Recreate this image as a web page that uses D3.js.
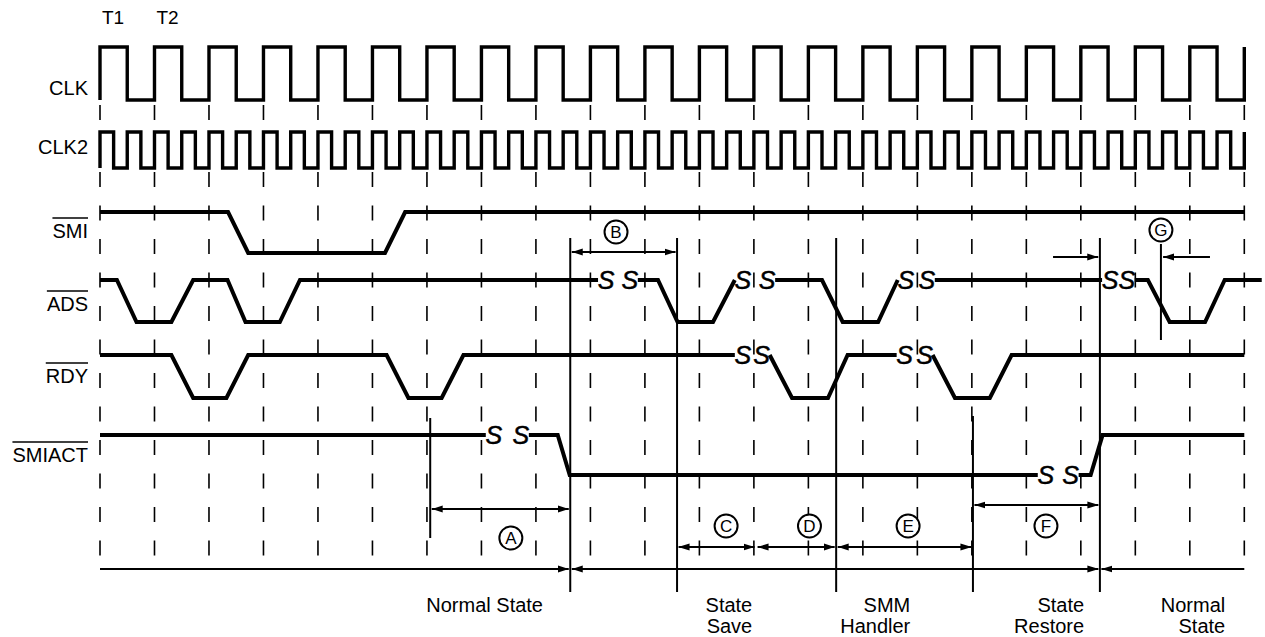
<!DOCTYPE html>
<html>
<head>
<meta charset="utf-8">
<script src="https://cdn.jsdelivr.net/npm/d3@7"></script>
<style>
  body { margin: 0; background: #fff; }
  svg text { font-family: "Liberation Sans", Arial, Helvetica, sans-serif; fill: #000; }
</style>
</head>
<body>
<div id="chart"></div>
<script>
// ---- data (time in CLK periods, level 1 = high / 0 = low) ----
const clkCycles = 21
const clk2Cycles = 42
const cycleLabels = ["T1", "T2"]

const signalNames = ["SMI", "ADS", "RDY", "SMIACT"]

// each signal is a list of segments, an "S S" break sits between two segments
const smiWave = [
    [[0, 1], [2.35, 1], [2.72, 0], [5.23, 0], [5.6, 1], [21, 1]]
]
const adsWave = [
    [[0, 1], [0.31, 1], [0.67, 0], [1.31, 0], [1.71, 1], [2.34, 1], [2.67, 0], [3.3, 0], [3.67, 1], [9.14, 1]],
    [[9.87, 1], [10.24, 1], [10.6, 0], [11.25, 0], [11.65, 1]],
    [[12.39, 1], [13.25, 1], [13.63, 0], [14.28, 0], [14.64, 1]],
    [[15.32, 1], [18.39, 1]],
    [[18.99, 1], [19.23, 1], [19.63, 0], [20.28, 0], [20.64, 1], [21.32, 1]]
]
const rdyWave = [
    [[0, 1], [1.31, 1], [1.71, 0], [2.32, 0], [2.72, 1], [5.26, 1], [5.66, 0], [6.27, 0], [6.67, 1], [11.65, 1]],
    [[12.29, 1], [12.7, 0], [13.36, 0], [13.72, 1], [14.62, 1]],
    [[15.28, 1], [15.69, 0], [16.33, 0], [16.73, 1], [21, 1]]
]
const smiactWave = [
    [[0, 1], [7.08, 1]],
    [[7.87, 1], [8.4, 1], [8.62, 0], [17.21, 0]],
    [[17.96, 0], [18.18, 0], [18.4, 1], [21, 1]]
]
const waves = [smiWave, adsWave, rdyWave, smiactWave]

// timing intervals (circled letters)
const dimLabels = ["A", "B", "C", "D", "E", "F"]
const dimStart  = [6.06, 8.63, 10.59, 12.04, 13.51, 16.02]
const dimEnd    = [8.63, 10.59, 12.04, 13.51, 16.02, 18.35]
const dimText   = [7.54, 9.47, 11.49, 13.02, 14.83, 17.36]

// G: SMI setup around the SMIACT rise
const gLabel = "G"
const gMark = 19.47
const gLeftArrow = [17.49, 18.32]
const gRightArrow = [20.37, 19.51]

// operating phases
const phaseBounds = [8.63, 18.35]
const phaseNames = [["Normal State"], ["State", "Save"], ["SMM", "Handler"], ["State", "Restore"], ["Normal", "State"]]
const phaseRight = [8.13, 11.97, 14.87, 18.06, 20.65]

// ---- layout ----
const W = 1265, H = 637
const gridTop = 105, gridBottom = 558
const rows = {
    CLK:    { hi: 47,  lo: 100, base: 95 },
    CLK2:   { hi: 132, lo: 168, base: 154 },
    SMI:    { hi: 212, lo: 253, base: 238, bar: 218 },
    ADS:    { hi: 280, lo: 322, base: 311, bar: 291 },
    RDY:    { hi: 355, lo: 398, base: 383, bar: 363 },
    SMIACT: { hi: 435, lo: 475, base: 462, bar: 442 }
}
const dimY = { A: 509, B: 252, C: 547, D: 547, E: 547, F: 505 }
const dimTextY = { A: 538, B: 232, C: 526, D: 526, E: 526, F: 526 }
const markerLines = [
    { t: 6.06, y1: 418, y2: 538 },
    { t: 8.63, y1: 238, y2: 592 },
    { t: 10.59, y1: 238, y2: 592 },
    { t: 13.51, y1: 238, y2: 592 },
    { t: 16.02, y1: 416, y2: 592 },
    { t: 18.35, y1: 238, y2: 592 },
    { t: gMark, y1: 244, y2: 340 }
]
const phaseBarY = 569

const x = d3.scaleLinear().domain([0, clkCycles]).range([100, 1244.3])

const svg = d3.select("#chart").append("svg")
    .attr("width", W).attr("height", H)
    .attr("viewBox", `0 0 ${W} ${H}`)

const defs = svg.append("defs")
defs.append("marker")
    .attr("id", "arrow")
    .attr("viewBox", "0 0 11 8")
    .attr("refX", 11).attr("refY", 4)
    .attr("markerWidth", 11).attr("markerHeight", 8)
    .attr("markerUnits", "userSpaceOnUse")
    .attr("orient", "auto-start-reverse")
    .append("path").attr("d", "M0,0.5 L11,4 L0,7.5 z").attr("fill", "#000")

// dashed clock grid
svg.append("g").selectAll("line")
    .data(d3.range(clkCycles + 1))
    .join("line")
    .attr("x1", d => x(d)).attr("x2", d => x(d))
    .attr("y1", gridTop).attr("y2", gridBottom)
    .attr("stroke", "#000").attr("stroke-width", 1.6)
    .attr("stroke-dasharray", "15 18.5")

// clocks
function clockPath(cycles, r) {
    const pts = [[0, r.lo]]
    const step = clkCycles / cycles
    for (let i = 0; i < cycles; i++) {
        const t0 = i * step
        pts.push([t0, r.hi], [t0 + step / 2, r.hi], [t0 + step / 2, r.lo], [t0 + step, r.lo])
    }
    pts.push([clkCycles, r.hi])
    return d3.line().x(d => x(d[0])).y(d => d[1])(pts)
}
svg.append("path").attr("d", clockPath(clkCycles, rows.CLK))
    .attr("fill", "none").attr("stroke", "#000").attr("stroke-width", 3.4)
svg.append("path").attr("d", clockPath(clk2Cycles, rows.CLK2))
    .attr("fill", "none").attr("stroke", "#000").attr("stroke-width", 3.4)

// T1 / T2
svg.selectAll(".tlabel")
    .data(cycleLabels)
    .join("text")
    .attr("class", "tlabel")
    .attr("x", (d, i) => x(i) + 2).attr("y", 24)
    .attr("font-size", 19)
    .text(d => d)

// signal labels
const labelG = svg.append("g")
for (const name of ["CLK", "CLK2", ...signalNames]) {
    const r = rows[name]
    const t = labelG.append("text")
        .attr("x", 88).attr("y", r.base)
        .attr("text-anchor", "end")
        .attr("font-size", 20)
        .text(name)
    if (r.bar) {
        const w = t.node().getComputedTextLength()
        labelG.append("line")
            .attr("x1", 88 - w).attr("x2", 88)
            .attr("y1", r.bar).attr("y2", r.bar)
            .attr("stroke", "#000").attr("stroke-width", 1.6)
    }
}

// signal waveforms with break marks
signalNames.forEach((name, k) => {
    const r = rows[name]
    const y = d3.scaleLinear().domain([0, 1]).range([r.lo, r.hi])
    const line = d3.line().x(d => x(d[0])).y(d => y(d[1]))
    const g = svg.append("g")
    g.selectAll("path")
        .data(waves[k])
        .join("path")
        .attr("d", line)
        .attr("fill", "none").attr("stroke", "#000")
        .attr("stroke-width", 4).attr("stroke-linejoin", "miter")

    for (let s = 0; s < waves[k].length - 1; s++) {
        const end = waves[k][s][waves[k][s].length - 1]
        const start = waves[k][s + 1][0]
        const marks = [[x(end[0]) + 8, y(end[1])], [x(start[0]) - 8, y(start[1])]]
        g.selectAll(null)
            .data(marks)
            .join("text")
            .attr("x", d => d[0]).attr("y", d => d[1] + 8.5)
            .attr("text-anchor", "middle")
            .attr("font-size", 25).attr("font-style", "italic")
            .attr("stroke", "#000").attr("stroke-width", 0.5)
            .text("S")
    }
})

// solid marker lines
svg.append("g").selectAll("line")
    .data(markerLines)
    .join("line")
    .attr("x1", d => x(d.t)).attr("x2", d => x(d.t))
    .attr("y1", d => d.y1).attr("y2", d => d.y2)
    .attr("stroke", "#000").attr("stroke-width", 2)

// dimension arrows
const dimG = svg.append("g")
dimLabels.forEach((lab, i) => {
    dimG.append("line")
        .attr("x1", x(dimStart[i]) + 1.5).attr("x2", x(dimEnd[i]) - 1.5)
        .attr("y1", dimY[lab]).attr("y2", dimY[lab])
        .attr("stroke", "#000").attr("stroke-width", 2)
        .attr("marker-start", "url(#arrow)").attr("marker-end", "url(#arrow)")
})

function circled(lab, cx, cy) {
    dimG.append("circle").attr("cx", cx).attr("cy", cy).attr("r", 11.5)
        .attr("fill", "#fff").attr("stroke", "#000").attr("stroke-width", 2)
    dimG.append("text").attr("x", cx).attr("y", cy + 6)
        .attr("text-anchor", "middle").attr("font-size", 17)
        .text(lab)
}
dimLabels.forEach((lab, i) => circled(lab, x(dimText[i]), dimTextY[lab]))
circled(gLabel, x(gMark), 230)

for (const a of [gLeftArrow, gRightArrow]) {
    dimG.append("line")
        .attr("x1", x(a[0])).attr("x2", x(a[1]))
        .attr("y1", 257).attr("y2", 257)
        .attr("stroke", "#000").attr("stroke-width", 2)
        .attr("marker-end", "url(#arrow)")
}

// phase bar
const barSegs = [
    { a: 0, b: phaseBounds[0], start: false },
    { a: phaseBounds[0], b: phaseBounds[1], start: true },
    { a: phaseBounds[1], b: clkCycles, start: true, noEnd: true }
]
barSegs.forEach(s => {
    const l = svg.append("line")
        .attr("x1", x(s.a) + (s.start ? 1.5 : 0))
        .attr("x2", x(s.b) - (s.noEnd ? 0 : 1.5))
        .attr("y1", phaseBarY).attr("y2", phaseBarY)
        .attr("stroke", "#000").attr("stroke-width", 2)
    if (s.start) l.attr("marker-start", "url(#arrow)")
    if (!s.noEnd) l.attr("marker-end", "url(#arrow)")
})

// phase names
const phaseG = svg.append("g")
phaseNames.forEach((lines, i) => {
    lines.forEach((txt, j) => {
        phaseG.append("text")
            .attr("x", x(phaseRight[i])).attr("y", 612 + j * 21)
            .attr("text-anchor", "end").attr("font-size", 20)
            .text(txt)
    })
})
</script>
</body>
</html>
